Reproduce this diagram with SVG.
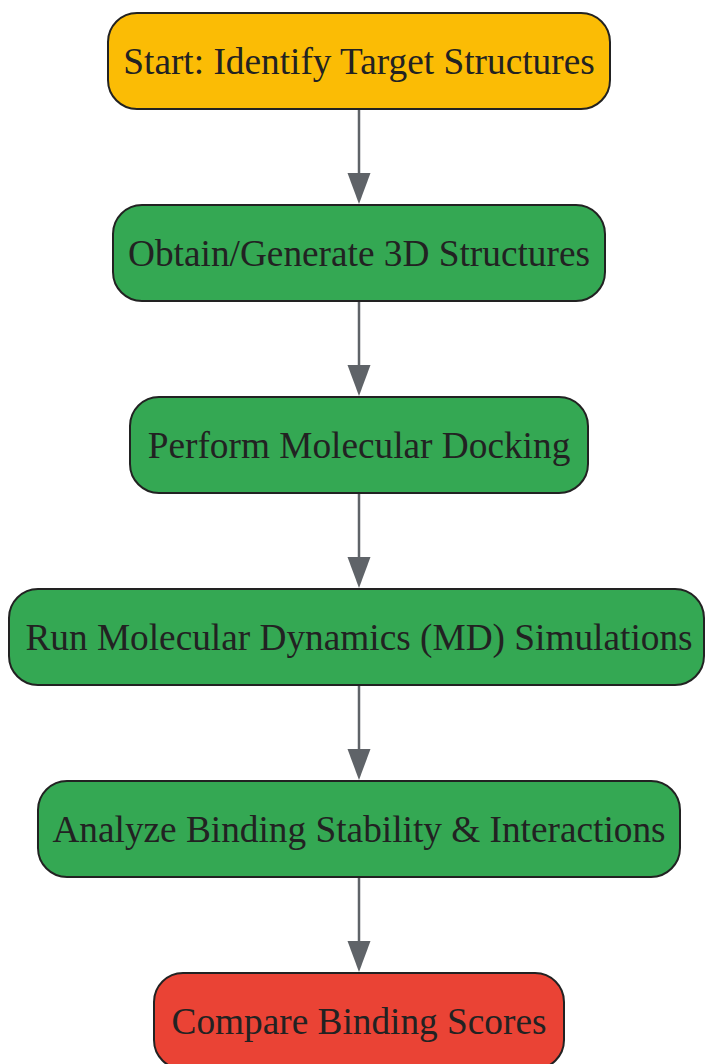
<svg xmlns="http://www.w3.org/2000/svg" width="705" height="1064" viewBox="0 0 705 1064">
<style>
.n rect{stroke:#222;stroke-width:2}
.n text{font-family:"Liberation Serif","Times New Roman",serif;font-size:37.3px;fill:#222;text-anchor:middle}
.y rect{fill:#FBBC05}
.g rect{fill:#34A853}
.r rect{fill:#EA4335}
.c line{stroke:#5F6368;stroke-width:2.5}
.c polygon{fill:#5F6368}
</style>
<rect width="705" height="1064" fill="#fff"/>
<g id="connectors" class="c">
<line x1="359" y1="109" x2="359" y2="176"/><polygon points="347.5,173 370.5,173 359,204"/>
<line x1="359" y1="301" x2="359" y2="368"/><polygon points="347.5,365 370.5,365 359,396"/>
<line x1="359" y1="493" x2="359" y2="560"/><polygon points="347.5,557 370.5,557 359,588"/>
<line x1="359" y1="685" x2="359" y2="752"/><polygon points="347.5,749 370.5,749 359,780"/>
<line x1="359" y1="877" x2="359" y2="944"/><polygon points="347.5,941 370.5,941 359,972"/>
</g>
<g id="n1" class="n y"><rect x="108" y="13" width="502" height="96" rx="29"/><text x="359" y="74">Start: Identify Target Structures</text></g>
<g id="n2" class="n g"><rect x="113" y="205" width="492" height="96" rx="29"/><text x="359" y="266">Obtain/Generate 3D Structures</text></g>
<g id="n3" class="n g"><rect x="130" y="397" width="458" height="96" rx="29"/><text x="359" y="458">Perform Molecular Docking</text></g>
<g id="n4" class="n g"><rect x="9" y="589" width="695" height="96" rx="29"/><text x="359" y="650">Run Molecular Dynamics (MD) Simulations</text></g>
<g id="n5" class="n g"><rect x="38" y="781" width="642" height="96" rx="29"/><text x="359" y="842">Analyze Binding Stability &amp; Interactions</text></g>
<g id="n6" class="n r"><rect x="154" y="973" width="410" height="96" rx="29"/><text x="359" y="1034">Compare Binding Scores</text></g>
</svg>
